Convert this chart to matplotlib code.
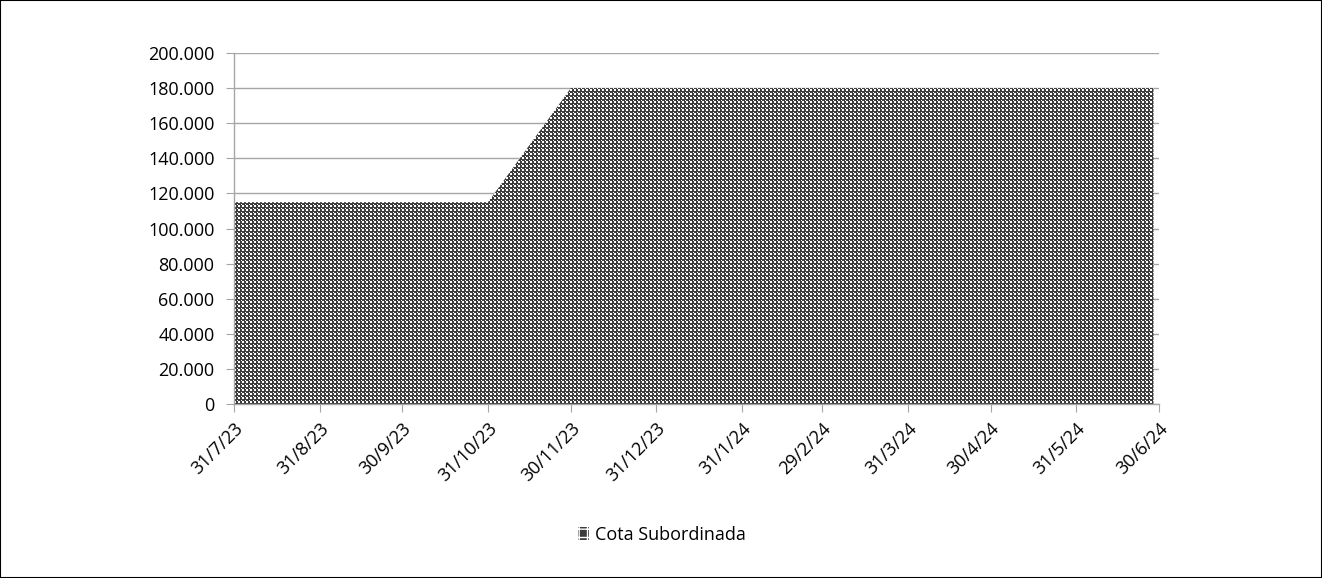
import matplotlib
matplotlib.use("Agg")
import matplotlib.pyplot as plt
from matplotlib.patches import Rectangle, Patch
from matplotlib.ticker import FuncFormatter
import numpy as np
import datetime as dt

plt.rcParams['font.family'] = ['Open Sans', 'DejaVu Sans']
plt.rcParams['hatch.linewidth'] = 1.0

dates = ["2023-07-31", "2023-08-31", "2023-09-29", "2023-10-31", "2023-11-30",
         "2023-12-29", "2024-01-31", "2024-02-29", "2024-03-28", "2024-04-30",
         "2024-05-31", "2024-06-28"]
values = [115000, 115000, 115000, 115000, 180000, 180000, 180000, 180000,
          180000, 180000, 180000, 180000]
tick_dates = ["2023-07-31", "2023-08-31", "2023-09-30", "2023-10-31", "2023-11-30",
              "2023-12-31", "2024-01-31", "2024-02-29", "2024-03-31", "2024-04-30",
              "2024-05-31", "2024-06-30"]
tick_labels = ["31/7/23", "31/8/23", "30/9/23", "31/10/23", "30/11/23", "31/12/23",
               "31/1/24", "29/2/24", "31/3/24", "30/4/24", "31/5/24", "30/6/24"]
series_name = "Cota Subordinada"

x = [dt.datetime.strptime(d, "%Y-%m-%d") for d in dates]
xt = [dt.datetime.strptime(d, "%Y-%m-%d") for d in tick_dates]

W, H = 1322, 578
L, R, T, B = 234, 1159, 53, 404
fig = plt.figure(figsize=(W / 100, H / 100), dpi=100)
ax = fig.add_axes([L / W, 1 - B / H, (R - L) / W, (B - T) / H])

grid_c = '#A6A6A6'
poly = ax.fill_between(x, 0, values, facecolor='none', edgecolor='none',
                       linewidth=0, zorder=2)

# checker texture clipped to the area
pw, ph = R - L, B - T
yy, xx = np.mgrid[0:ph, 0:pw]
white = (((xx % 4) < 2) & ((yy % 4) < 2)) | ((xx % 4 == 3) & (yy % 4 == 3))
rgb = np.full((ph, pw, 3), 0x3C / 255.0)
rgb[white] = 1.0
im = ax.imshow(rgb, extent=(0, 1, 0, 1), transform=ax.transAxes,
               interpolation='nearest', aspect='auto', zorder=2)
im.set_clip_path(poly.get_paths()[0], transform=ax.transData)

ax.set_xlim(xt[0], xt[-1])
ax.set_ylim(0, 200000)
ax.set_yticks(range(0, 200001, 20000))
ax.yaxis.set_major_formatter(FuncFormatter(lambda v, p: f"{int(v):,}".replace(",", ".")))
ax.set_xticks(xt)
ax.set_xticklabels(tick_labels, rotation=45, ha='right', rotation_mode='anchor')
ax.grid(axis='y', color=grid_c, linewidth=1, zorder=0)
ax.set_axisbelow(True)
for s in ['top', 'right']:
    ax.spines[s].set_visible(False)
for s in ['left', 'bottom']:
    ax.spines[s].set_color(grid_c)
    ax.spines[s].set_linewidth(1)
    ax.spines[s].set_zorder(3)
ax.tick_params(axis='y', length=6, color=grid_c, labelsize=13, pad=8)
ax.tick_params(axis='x', length=6, color=grid_c, labelsize=13, pad=5)

handle = Patch(facecolor='#3C3C3C', edgecolor='white', hatch='++', linewidth=0,
               label=series_name)
fig.legend(handles=[handle], loc='center', bbox_to_anchor=(662 / W, 1 - 535 / H),
           frameon=False, fontsize=13, handlelength=0.6, handleheight=0.75,
           handletextpad=0.3)

fig.patches.append(Rectangle((0, 0), 1, 1, transform=fig.transFigure, fill=False,
                             edgecolor='black', linewidth=1.5))

fig.savefig("out.png", dpi=100)
